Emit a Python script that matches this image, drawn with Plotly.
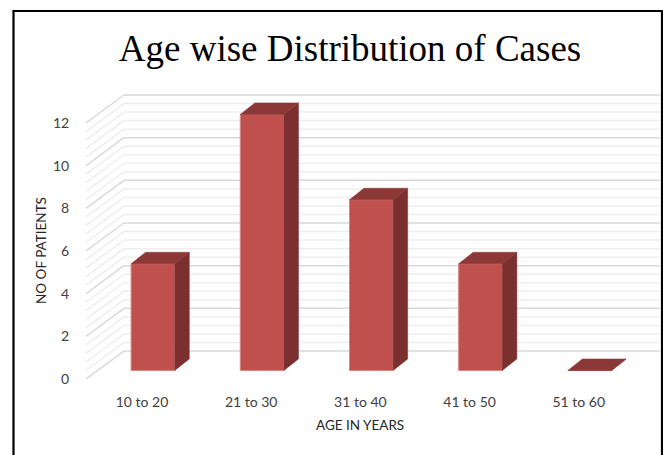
import plotly.graph_objects as go

# Chart data
categories = ["10 to 20", "21 to 30", "31 to 40", "41 to 50", "51 to 60"]
patients = [5, 12, 8, 5, 0]
value_ticks = [0, 2, 4, 6, 8, 10, 12]
minor_step = 0.4

# Pseudo-3D geometry, in axis units
bar_offset = -0.1     # front face start relative to the category tick
bar_width = 0.4
bar_lift = 0.40       # front face stands a little behind the floor edge
bar_dx = 0.133        # depth of a bar
bar_dy = 0.54
wall_dx = 0.348       # depth of the floor
wall_dy = 1.31
x_left, x_right = -0.513, 4.744
y_top = 14.95

# Colours
FRONT = "#C0504D"
SIDE = "#7B2F2E"
TOP = "#8C3837"
EDGE = "#D98582"
MAJOR = "#D9D9D9"
MINOR = "#EEEEEE"
TEXT = "#404040"

LEFT, RIGHT, TOP_M, BOTTOM = 86, 3, 60, 76
WIDTH, HEIGHT = 663, 455


def paper_x(px):
    return (px - LEFT) / (WIDTH - LEFT - RIGHT)


def paper_y(py):
    return (HEIGHT - BOTTOM - py) / (HEIGHT - BOTTOM - TOP_M)


# Wall and side-wall gridlines, minor ones first so the major ones sit on top
levels = [i * minor_step for i in range(int(round(max(value_ticks) / minor_step)) + 1)]
is_major = [round(v, 3) in value_ticks for v in levels]
shapes = []
for want_major in (False, True):
    for v, major in zip(levels, is_major):
        if major != want_major:
            continue
        line = dict(color=MAJOR if major else MINOR, width=1.5)
        shapes.append(dict(type="line", xref="x", yref="y", layer="below", line=line,
                           x0=x_left + wall_dx, x1=x_right,
                           y0=v + wall_dy, y1=v + wall_dy))
        shapes.append(dict(type="line", xref="x", yref="y", layer="below", line=line,
                           x0=x_left, x1=x_left + wall_dx,
                           y0=v, y1=v + wall_dy))

# Black frame around the chart, open at the bottom
frame_x = [paper_x(p) for p in (13.5, 13.5, 662, 662)]
frame_y = [paper_y(p) for p in (455, 11, 11, 455)]
shapes.append(dict(
    type="path", xref="paper", yref="paper", layer="above",
    line=dict(color="#000000", width=2.2),
    path=f"M {frame_x[0]} {frame_y[0]} L {frame_x[1]} {frame_y[1]} "
         f"L {frame_x[2]} {frame_y[2]} L {frame_x[3]} {frame_y[3]}",
))

fig = go.Figure()

# Front faces
fig.add_trace(go.Bar(
    x=list(range(len(categories))), y=patients, base=bar_lift,
    offset=bar_offset, width=bar_width,
    marker=dict(color=FRONT, line=dict(color=EDGE, width=1)),
    hovertext=categories, hoverinfo="text+y", showlegend=False,
))

# Side and top faces, derived from the same values
side_x, side_y, top_x, top_y = [], [], [], []
for i, v in enumerate(patients):
    x0 = i + bar_offset
    x1 = x0 + bar_width
    low = bar_lift
    high = bar_lift + v
    side_x += [x1, x1 + bar_dx, x1 + bar_dx, x1, x1, None]
    side_y += [low, low + bar_dy, high + bar_dy, high, low, None]
    top_x += [x0, x1, x1 + bar_dx, x0 + bar_dx, x0, None]
    top_y += [high, high, high + bar_dy, high + bar_dy, high, None]

for xs, ys, colour in ((side_x, side_y, SIDE), (top_x, top_y, TOP)):
    fig.add_trace(go.Scatter(
        x=xs, y=ys, mode="lines", fill="toself", fillcolor=colour,
        line=dict(color=colour, width=0.5), hoverinfo="skip", showlegend=False,
    ))

fig.update_layout(
    width=WIDTH, height=HEIGHT,
    margin=dict(l=LEFT, r=RIGHT, t=TOP_M, b=BOTTOM, autoexpand=False),
    paper_bgcolor="#FFFFFF", plot_bgcolor="rgba(0,0,0,0)",
    title=dict(
        text="Age wise Distribution of Cases",
        font=dict(family="Liberation Serif", size=37, color="#000000"),
        x=350 / WIDTH, y=1 - 48 / HEIGHT, xanchor="center", yanchor="middle",
    ),
    xaxis=dict(
        range=[x_left, x_right], tickmode="array",
        tickvals=list(range(len(categories))), ticktext=categories,
        showgrid=False, zeroline=False, showline=False,
        ticks="outside", ticklen=10, tickcolor="rgba(0,0,0,0)",
        tickfont=dict(family="Lato", size=14, color=TEXT),
    ),
    yaxis=dict(
        range=[0, y_top], tickmode="array", tickvals=value_ticks,
        showgrid=False, zeroline=False, showline=False,
        ticks="outside", ticklen=13, tickcolor="rgba(0,0,0,0)",
        tickfont=dict(family="Lato", size=14, color=TEXT),
    ),
    shapes=shapes,
    annotations=[
        dict(text="AGE IN YEARS", xref="paper", yref="paper",
             x=paper_x(360), y=paper_y(425), showarrow=False,
             xanchor="center", yanchor="middle",
             font=dict(family="Lato", size=13.5, color="#262626")),
        dict(text="NO OF PATIENTS", xref="paper", yref="paper",
             x=paper_x(41), y=paper_y(251), showarrow=False, textangle=-90,
             xanchor="center", yanchor="middle",
             font=dict(family="Lato", size=13.5, color="#262626")),
    ],
)

fig.write_html("out.html")
